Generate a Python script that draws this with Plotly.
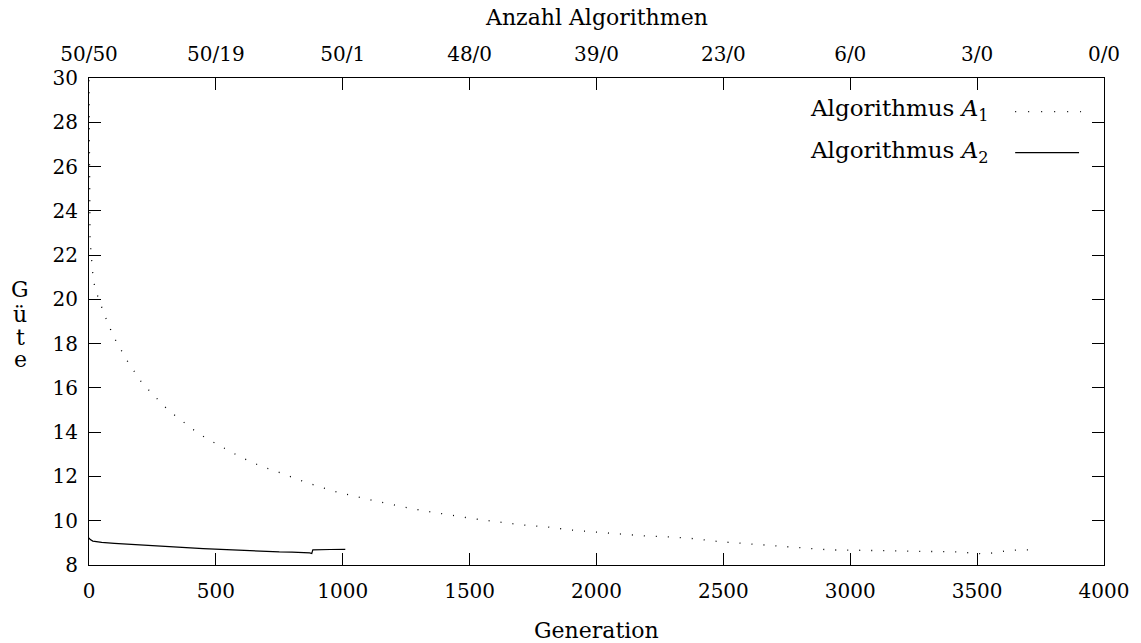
import plotly.graph_objects as go

# ---- data ----
gen_a1 = [0, 1, 2, 4, 8, 12, 16, 25, 43, 58, 77, 93, 114, 136, 158, 184, 208, 235, 267, 295,
          325, 358, 390, 423, 460, 494, 528, 566, 601, 642, 680, 721, 761, 803, 870, 950,
          1040, 1144, 1238, 1330, 1420, 1516, 1610, 1706, 1805, 1899, 1997, 2090, 2192,
          2288, 2385, 2480, 2581, 2680, 2828, 2921, 3011, 3109, 3214, 3320, 3425, 3522,
          3576, 3617, 3660, 3710]
val_a1 = [29.9, 26.5, 24.2, 22.8, 22.1, 21.6, 21.0, 20.42, 19.9, 19.37, 18.89, 18.39, 17.95,
          17.53, 17.08, 16.66, 16.24, 15.91, 15.52, 15.19, 14.88, 14.59, 14.28, 14.01, 13.74,
          13.53, 13.32, 13.08, 12.85, 12.66, 12.44, 12.31, 12.13, 11.95, 11.68, 11.38,
          11.12, 10.86, 10.62, 10.43, 10.25, 10.09, 9.95, 9.81, 9.72, 9.58, 9.49, 9.40, 9.31,
          9.27, 9.19, 9.06, 8.97, 8.88, 8.78, 8.68, 8.67, 8.65, 8.62, 8.60, 8.59, 8.50,
          8.56, 8.65, 8.68, 8.68]

gen_a2 = [0, 5, 15, 30, 50, 100, 150, 200, 250, 300, 350, 400, 450, 500, 550, 600, 650, 700,
          750, 800, 850, 870, 878, 882, 950, 1010]
val_a2 = [9.22, 9.15, 9.08, 9.04, 9.02, 8.98, 8.94, 8.91, 8.87, 8.84, 8.80, 8.77, 8.74, 8.71,
          8.68, 8.65, 8.62, 8.60, 8.59, 8.58, 8.57, 8.55, 8.52, 8.68, 8.70, 8.71]

x_ticks = [0, 500, 1000, 1500, 2000, 2500, 3000, 3500, 4000]
top_tick_text = ["50/50", "50/19", "50/1", "48/0", "39/0", "23/0", "6/0", "3/0", "0/0"]
y_ticks = [8, 10, 12, 14, 16, 18, 20, 22, 24, 26, 28, 30]

series_names = ["Algorithmus <i>A</i><sub>1</sub>", "Algorithmus <i>A</i><sub>2</sub>"]

FONT = "DejaVu Serif"
FS = 20      # tick labels
FS_T = 22    # titles
FS_L = 23    # legend text

fig = go.Figure()
fig.add_trace(go.Scatter(x=gen_a1, y=val_a1, mode="lines", name=series_names[0],
                         line=dict(color="black", width=1.3, dash="1px,11px"),
                         showlegend=False))
fig.add_trace(go.Scatter(x=gen_a2, y=val_a2, mode="lines", name=series_names[1],
                         line=dict(color="black", width=1.2, shape="linear"),
                         showlegend=False))
# invisible trace to activate top axis
fig.add_trace(go.Scatter(x=[0, 4000], y=[8, 8], xaxis="x2", mode="markers",
                         marker=dict(opacity=0), showlegend=False, hoverinfo="skip"))

axis_common = dict(showgrid=False, zeroline=False, showline=True, linecolor="black",
                   linewidth=1.2, ticks="inside", ticklen=12, tickwidth=1.2,
                   tickcolor="black", mirror="ticks",
                   tickfont=dict(family=FONT, size=FS, color="black"))

fig.update_layout(
    width=1141, height=643,
    margin=dict(l=89, r=35, t=78, b=78),
    plot_bgcolor="white", paper_bgcolor="white",
    font=dict(family=FONT, size=FS, color="black"),
    xaxis=dict(range=[0, 4000], tickvals=x_ticks, ticktext=[str(v) for v in x_ticks],
               ticklabelstandoff=8, **axis_common),
    xaxis2=dict(range=[0, 4000], overlaying="x", side="top", tickvals=x_ticks,
                ticktext=top_tick_text, showgrid=False, zeroline=False, showline=False,
                ticks="", ticklabelstandoff=12,
                tickfont=dict(family=FONT, size=FS, color="black")),
    yaxis=dict(range=[8, 30], tickvals=y_ticks, ticktext=[str(v) for v in y_ticks],
               ticklabelstandoff=6, **axis_common),
    showlegend=False,
)


def py2paper(py):
    return (565 - py) / 487.0


def px2paper(px):
    return (px - 89) / 1017.0


annotations = [
    dict(text="Anzahl Algorithmen", x=0.5, y=py2paper(18), xref="paper", yref="paper",
         showarrow=False, yanchor="middle", font=dict(family=FONT, size=FS_T)),
    dict(text="Generation", x=0.5, y=py2paper(630), xref="paper", yref="paper",
         showarrow=False, yanchor="middle", font=dict(family=FONT, size=FS_T)),
]

for letter, py in zip(["G", "ü", "t", "e"], [289, 314, 337, 359]):
    annotations.append(dict(text=letter, x=px2paper(20), y=py2paper(py), xref="paper",
                            yref="paper", showarrow=False, xanchor="center",
                            yanchor="middle", height=20,
                            font=dict(family=FONT, size=FS_T)))

for name, py in zip(series_names, [110, 152]):
    annotations.append(dict(text=name, x=px2paper(993), y=py2paper(py), xref="paper",
                            yref="paper", showarrow=False, xanchor="right",
                            yanchor="middle", font=dict(family=FONT, size=FS_L)))
fig.update_layout(annotations=annotations)

fig.add_shape(type="line", xref="paper", yref="paper",
              x0=px2paper(1017), x1=px2paper(1083), y0=py2paper(111.7), y1=py2paper(111.7),
              line=dict(color="black", width=1.3, dash="1px,12px"))
fig.add_shape(type="line", xref="paper", yref="paper",
              x0=px2paper(1017), x1=px2paper(1081), y0=py2paper(152.7), y1=py2paper(152.7),
              line=dict(color="black", width=1.2))

fig.write_html("out.html")
